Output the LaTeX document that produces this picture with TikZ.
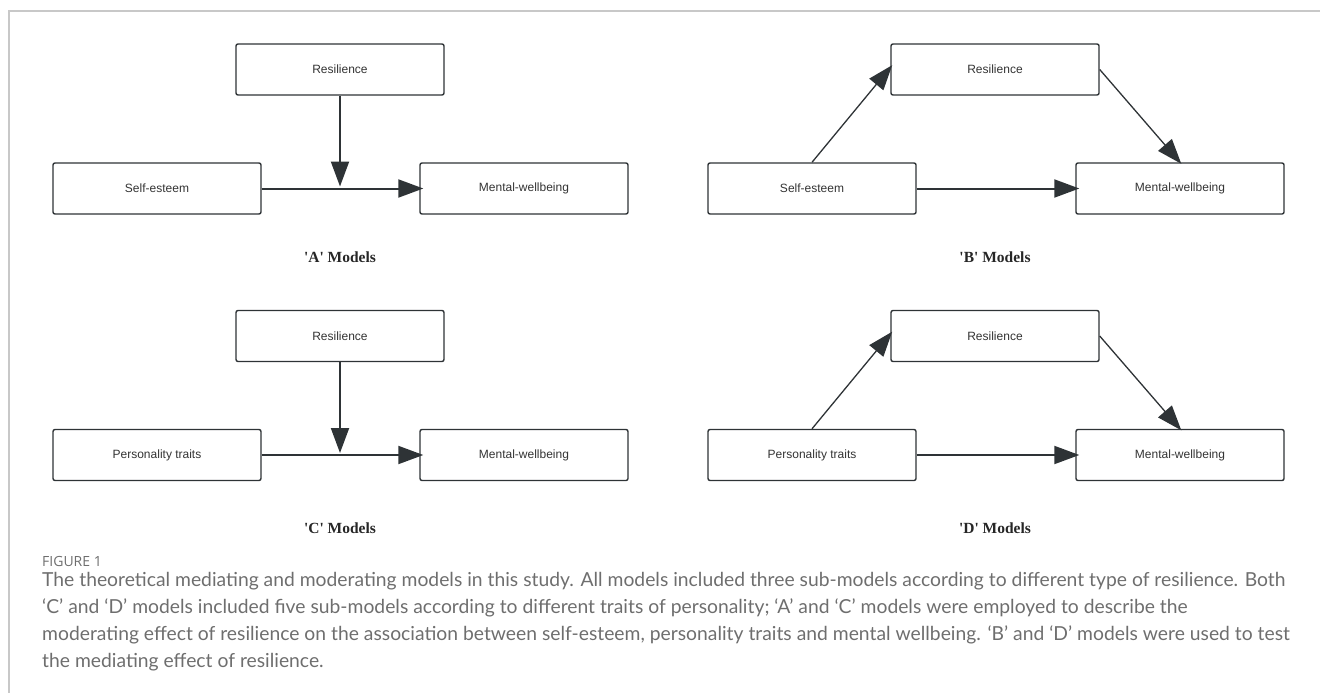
\documentclass[tikz,border=0pt]{standalone}
\usepackage{fontspec}
\usepackage{tikz}
\usetikzlibrary{arrows.meta,positioning}
\newfontfamily\boxfont{Liberation Sans}
\newfontfamily\modfont{Liberation Serif}
\newfontfamily\capfont{Lato}
\newfontfamily\fignofont{Open Sans}
\definecolor{boxline}{HTML}{2E3336}
\definecolor{arrline}{HTML}{2E3336}
\definecolor{framegray}{HTML}{C8C8C8}
\definecolor{capgray}{HTML}{6E6E6E}
\tikzset{
  box/.style={draw=boxline,line width=1.4pt,rounded corners=2pt,minimum width=208pt,minimum height=51pt,inner sep=0pt,
    font={\boxfont\fontsize{12pt}{14pt}\selectfont},text=black!80},
  arr/.style={draw=arrline,line width=2pt,-{Triangle[length=25pt,width=18pt]}},
  thinarr/.style={arr,line width=1.3pt},
  modlabel/.style={font={\modfont\bfseries\fontsize{15.5pt}{18pt}\selectfont},text=black!85},
  capline/.style={anchor=base west,inner sep=0pt,text=capgray,font={\capfont\fontsize{19.3pt}{22pt}\selectfont}}
}

\begin{document}
\begin{tikzpicture}[x=1pt,y=-1pt]
  \useasboundingbox (0,0) rectangle (1320,693);
  \draw[framegray,line width=1.5pt] (9,693) -- (9,11) -- (1320,11);

  % A models
  \node[box] (resA)  at (340,69.5)  {Resilience};
  \node[box] (selfA) at (157,188.5) {Self-esteem};
  \node[box] (mentA) at (524,188.5) {Mental-wellbeing};
  \coordinate (modA) at ([yshift=2pt]resA |- selfA);
  \draw[arr] (selfA) -- (mentA) [shorten >=-4pt];
  \draw[arr] (resA) -- (modA);
  \node[modlabel] (labA) at (340,257) {\textquotesingle A\textquotesingle{} Models};

  % B models
  \node[box] (resB)  at (995,69.5)  {Resilience};
  \node[box] (selfB) at (812,188.5) {Self-esteem};
  \node[box] (mentB) at (1180,188.5) {Mental-wellbeing};
  \draw[arr] (selfB) -- (mentB) [shorten >=-4pt];
  \draw[thinarr,shorten >=-3pt] (selfB.north) -- ([yshift=2pt]resB.west);
  \draw[thinarr,shorten >=-2pt] (resB.east) -- (mentB.north);
  \node[modlabel] (labB) at (995,257) {\textquotesingle B\textquotesingle{} Models};

  % C models
  \node[box] (resC)  at (340,336) {Resilience};
  \node[box] (selfC) at (157,455) {Personality traits};
  \node[box] (mentC) at (524,455) {Mental-wellbeing};
  \coordinate (modC) at ([yshift=2pt]resC |- selfC);
  \draw[arr] (selfC) -- (mentC) [shorten >=-4pt];
  \draw[arr] (resC) -- (modC);
  \node[modlabel] (labC) at (340,528) {\textquotesingle C\textquotesingle{} Models};

  % D models
  \node[box] (resD)  at (995,336)  {Resilience};
  \node[box] (selfD) at (812,455)  {Personality traits};
  \node[box] (mentD) at (1180,455) {Mental-wellbeing};
  \draw[arr] (selfD) -- (mentD) [shorten >=-4pt];
  \draw[thinarr,shorten >=-3pt] (selfD.north) -- ([yshift=2pt]resD.west);
  \draw[thinarr,shorten >=-2pt] (resD.east) -- (mentD.north);
  \node[modlabel] (labD) at (995,528) {\textquotesingle D\textquotesingle{} Models};

  % caption
  \node[anchor=base west,inner sep=0pt,text=capgray,font={\fignofont\fontsize{14pt}{16pt}\selectfont}] (figno) at (42,566) {FIGURE 1};
  \node[capline] (cap1) at (42,586.5) {The theoretical mediating and moderating models in this study. All models included three sub-models according to different type of resilience. Both};
  \node[capline] (cap2) at (42,613.5) {‘C’ and ‘D’ models included five sub-models according to different traits of personality; ‘A’ and ‘C’ models were employed to describe the};
  \node[capline] (cap3) at (42,640.5) {moderating effect of resilience on the association between self-esteem, personality traits and mental wellbeing. ‘B’ and ‘D’ models were used to test};
  \node[capline] (cap4) at (42,667.5) {the mediating effect of resilience.};
\end{tikzpicture}
\end{document}
